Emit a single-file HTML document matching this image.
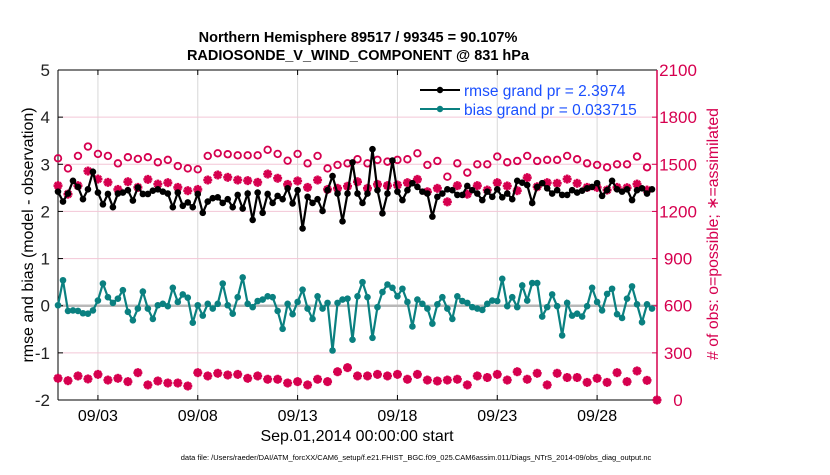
<!DOCTYPE html>
<html><head><meta charset="utf-8"><style>
body{margin:0;background:#fff;}
svg text{font-family:"Liberation Sans",Arial,sans-serif;}
</style></head><body>
<svg id="chart" width="830" height="470" viewBox="0 0 830 470" xmlns="http://www.w3.org/2000/svg">
<g id="grid"></g>
<g id="axes"></g>
<g id="marks"></g>
<text x="358" y="42" text-anchor="middle" font-size="14.5" font-weight="bold">Northern Hemisphere 89517 / 99345 = 90.107%</text>
<text x="358" y="60" text-anchor="middle" font-size="14.5" font-weight="bold">RADIOSONDE_V_WIND_COMPONENT @ 831 hPa</text>
<text transform="translate(33,235) rotate(-90)" text-anchor="middle" font-size="16" textLength="255" lengthAdjust="spacingAndGlyphs">rmse and bias (model - observation)</text>
<text transform="translate(718,234) rotate(-90)" text-anchor="middle" font-size="16" fill="#d6004f" textLength="252" lengthAdjust="spacingAndGlyphs"># of obs: o=possible; ∗=assimilated</text>
<text x="357" y="441" text-anchor="middle" font-size="16">Sep.01,2014 00:00:00 start</text>
<text x="416" y="460" text-anchor="middle" font-size="7.5">data file: /Users/raeder/DAI/ATM_forcXX/CAM6_setup/f.e21.FHIST_BGC.f09_025.CAM6assim.011/Diags_NTrS_2014-09/obs_diag_output.nc</text>
<g>
<line x1="420" y1="90" x2="460" y2="90" stroke="#000" stroke-width="2"/>
<circle cx="440" cy="90" r="3.2" fill="#000"/>
<text x="464" y="96" font-size="15.5" fill="#1a4fff">rmse grand pr = 2.3974</text>
<line x1="420" y1="109" x2="460" y2="109" stroke="#0a8080" stroke-width="2"/>
<circle cx="440" cy="109" r="3.2" fill="#0a8080"/>
<text x="464" y="115" font-size="15.5" fill="#1a4fff">bias grand pr = 0.033715</text>
</g>
</svg>
<script>
const xTickLabels=["09/03","09/08","09/13","09/18","09/23","09/28"];
const xTickDays=[2,7,12,17,22,27];
const yTicks=[-2,-1,0,1,2,3,4,5];
const y2Ticks=[0,300,600,900,1200,1500,1800,2100];
const rmse=[2.42,2.21,2.38,2.65,2.52,2.26,2.47,2.84,2.40,2.15,2.37,2.09,2.38,2.40,2.45,2.23,2.51,2.37,2.37,2.44,2.47,2.42,2.38,2.09,2.40,2.12,2.19,2.09,2.37,1.97,2.21,2.28,2.30,2.18,2.26,2.09,2.35,2.06,2.38,1.82,2.40,
1.97,2.37,2.18,2.33,2.26,2.49,2.17,2.45,1.64,2.31,2.18,2.26,2.01,2.45,2.75,2.38,1.79,2.38,3.04,2.38,2.18,2.38,3.32,2.45,1.96,2.38,3.08,2.42,2.24,2.45,2.60,2.52,2.42,2.38,1.89,2.31,2.38,2.47,2.45,
2.35,2.35,2.54,2.45,2.38,2.24,2.42,2.31,2.47,2.30,2.38,2.26,2.65,2.61,2.56,2.18,2.52,2.60,2.49,2.38,2.45,2.35,2.35,2.45,2.40,2.44,2.49,2.52,2.60,2.33,2.45,2.65,2.47,2.42,2.47,2.24,2.45,2.49,2.38,2.47];
const bias=[0.01,0.54,-0.11,-0.10,-0.11,-0.16,-0.17,-0.10,0.11,0.47,0.18,0.06,0.15,0.33,-0.13,-0.31,-0.06,0.30,-0.06,-0.28,0.01,0.04,-0.01,0.38,0.08,0.24,0.17,-0.36,0.01,-0.21,0.04,-0.06,0.04,0.47,0.01,-0.17,0.18,0.60,0.04,-0.03,0.10,
0.13,0.20,0.18,-0.11,-0.49,0.04,-0.18,0.08,0.34,-0.06,-0.28,0.20,-0.06,0.06,-0.95,0.06,0.13,0.15,-0.72,0.20,0.50,0.18,-0.68,-0.03,0.29,0.45,0.38,0.20,0.36,0.08,-0.44,0.13,0.04,-0.06,-0.38,0.03,0.18,-0.06,-0.28,
0.20,0.10,0.06,-0.03,-0.06,-0.09,0.04,0.11,0.10,0.57,-0.01,0.18,-0.03,0.43,0.11,0.48,0.48,-0.23,-0.03,0.24,-0.01,-0.63,0.06,-0.21,-0.17,-0.23,-0.01,0.38,0.08,-0.10,0.25,0.36,-0.18,-0.26,0.15,0.41,0.03,-0.35,0.03,-0.06];
const nPossible=[1538,1474,1553,1613,1566,1553,1506,1545,1534,1545,1513,1528,1489,1474,1468,1553,1570,1564,1557,1557,1557,1592,1566,1523,1566,1506,1553,1474,1496,1506,1532,1506,1528,1517,1528,1532,1570,1496,1521,1421,1506,1447,1500,1500,1549,1513,1521,1553,1521,1528,1528,1553,1532,1506,1496,1481,1500,1500,1549,1481];
const nAssim=[1364,1310,1364,1457,1406,1385,1340,1389,1353,1404,1374,1383,1353,1332,1340,1400,1432,1417,1400,1396,1385,1438,1411,1372,1394,1353,1400,1340,1347,1360,1389,1347,1372,1364,1368,1383,1404,1325,1347,1261,1364,1310,1364,1336,1383,1362,1332,1415,1357,1383,1379,1406,1379,1353,1353,1336,1353,1351,1374,1336];
const nLow=[138,123,153,134,163,127,138,117,174,96,121,108,108,89,174,153,170,159,163,138,153,132,132,108,117,96,132,117,180,206,153,153,163,153,163,132,163,127,121,127,132,96,153,143,163,127,180,132,170,96,170,143,143,112,138,112,174,117,185,125,0];

const NS='http://www.w3.org/2000/svg';
const L=58,R=657,T=70,B=400;
const xDay=d=>L+(R-L)*d/30;
const yL=v=>B-(v+2)/7*(B-T);
const yR=c=>B-c/2100*(B-T);
function mk(tag,attrs,parent){const e=document.createElementNS(NS,tag);for(const k in attrs)e.setAttribute(k,attrs[k]);parent.appendChild(e);return e;}
const grid=document.getElementById('grid'),axes=document.getElementById('axes'),marks=document.getElementById('marks');
xTickDays.forEach((d,i)=>{
  const g=mk('line',{x1:xDay(d),x2:xDay(d),y1:T,y2:B,stroke:'#d8d8d8','stroke-width':1},grid);
  
  
  const t=mk('text',{x:xDay(d),y:421,'text-anchor':'middle','font-size':16},axes);
  t.textContent=xTickLabels[i];
  
  
  mk('line',{x1:xDay(d),x2:xDay(d),y1:B,y2:B-5,stroke:'#000'},axes);
  mk('line',{x1:xDay(d),x2:xDay(d),y1:T,y2:T+5,stroke:'#000'},axes);
});
yTicks.forEach(v=>{
  if(v>-2&&v<5){const g=mk('line',{x1:L,x2:R,y1:yL(v),y2:yL(v),stroke:'#f3c6d6','stroke-width':1},grid);
  
  }
  const t=mk('text',{x:50,y:yL(v)+6,'text-anchor':'end','font-size':17,fill:'#222'},axes);
  t.textContent=v;
  
  
  mk('line',{x1:L,x2:L+5,y1:yL(v),y2:yL(v),stroke:'#000'},axes);
});
y2Ticks.forEach(c=>{
  const t=mk('text',{x:678,y:yR(c)+6,'text-anchor':'middle','font-size':17,fill:'#d6004f'},axes);
  t.textContent=c;
  
  
  mk('line',{x1:R,x2:R-5,y1:yR(c),y2:yR(c),stroke:'#d6004f'},axes);
});
mk('line',{x1:L,x2:R,y1:yL(0),y2:yL(0),stroke:'#b8b8b8','stroke-width':2.5},grid);
mk('line',{x1:L,x2:L,y1:T,y2:B,stroke:'#000'},axes);
mk('line',{x1:L,x2:R,y1:B,y2:B,stroke:'#000'},axes);
mk('line',{x1:L,x2:R,y1:T,y2:T,stroke:'#000'},axes);
mk('line',{x1:R,x2:R,y1:T,y2:B,stroke:'#d6004f','stroke-width':1.5},axes);
function star(x,y,parent,name){
  const g=mk('g',{},parent);
  
  
  for(let a=0;a<4;a++){const an=a*Math.PI/4;mk('line',{x1:x-4.5*Math.cos(an),y1:y-4.5*Math.sin(an),x2:x+4.5*Math.cos(an),y2:y+4.5*Math.sin(an),stroke:'#d6004f','stroke-width':2.6},g);}
}
nPossible.forEach((c,i)=>{
  const e=mk('circle',{cx:xDay(i*0.5),cy:yR(c),r:3.3,fill:'none',stroke:'#d6004f','stroke-width':1.8},marks);
  
  
});
nAssim.forEach((c,i)=>star(xDay(i*0.5),yR(c),marks,'assimilated-marker'));
nLow.forEach((c,i)=>{
  const x=xDay(i*0.5),y=yR(c);
  const e=mk('circle',{cx:x,cy:y,r:3.3,fill:'#d6004f',stroke:'#d6004f','stroke-width':1.5},marks);
  
  
  star(x,y,marks,'posterior-assimilated-marker');
});
function series(vals,color,name){
  const pts=vals.map((v,i)=>xDay(i*0.25)+','+yL(v)).join(' ');
  const p=mk('polyline',{points:pts,fill:'none',stroke:color,'stroke-width':2.2},marks);
  
  
  vals.forEach((v,i)=>{
    const c=mk('circle',{cx:xDay(i*0.25),cy:yL(v),r:3.3,fill:color},marks);
    
    
  });
}
series(bias,'#0a8080','bias');
series(rmse,'#000000','rmse');
</script>
</body></html>
